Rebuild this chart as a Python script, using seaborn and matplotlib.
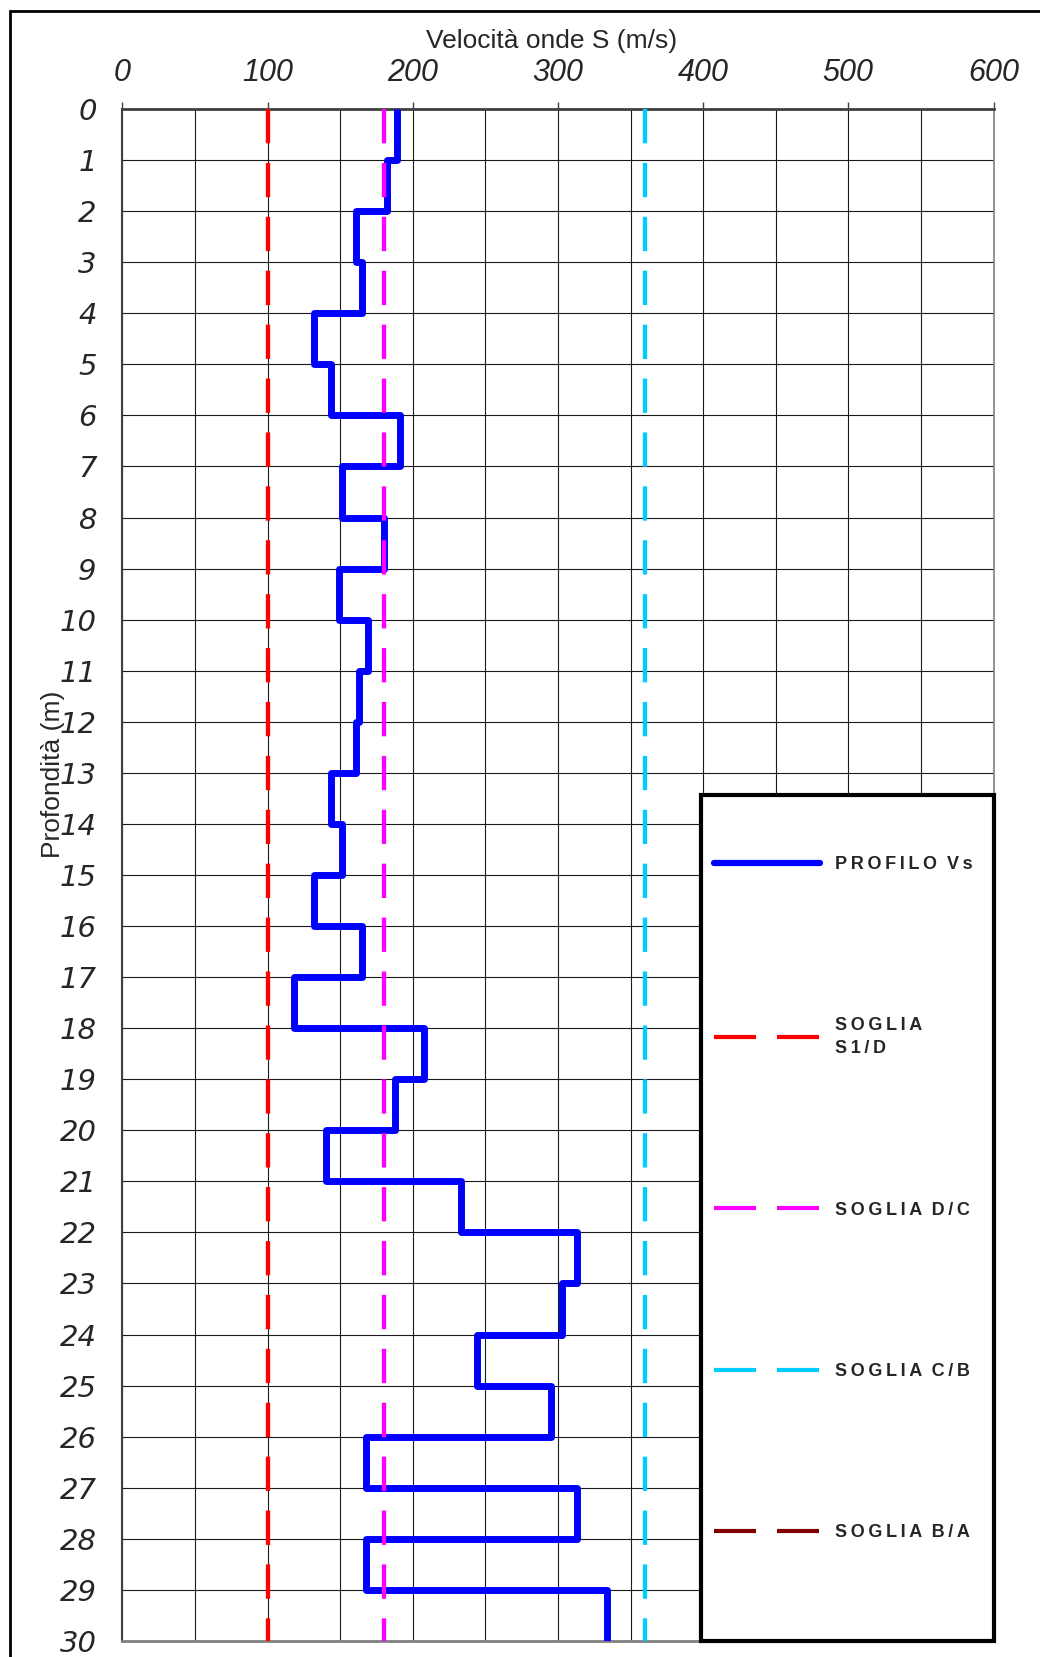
import matplotlib
matplotlib.use("Agg")
import matplotlib.pyplot as plt
from matplotlib.lines import Line2D
from matplotlib.patches import Rectangle
from matplotlib.ticker import MultipleLocator
import numpy as np
import pandas as pd
import seaborn as sns

# Vs profile, one value per 1 m layer (0-30 m)
depth_top = list(range(0, 30))
depth_bottom = list(range(1, 31))
vs = [189, 182, 161, 165, 132, 144, 191, 151, 180, 149,
      169, 163, 161, 144, 151, 132, 165, 118, 208, 188,
      140, 233, 313, 303, 244, 295, 168, 313, 168, 334]

# soil class thresholds (letter-spaced like the original legend)
T = "\u2009"
soglie_labels = [T.join("SOGLIA") + "\n" + T.join("S1/D"),
                 T.join("SOGLIA") + "  " + T.join("D/C"),
                 T.join("SOGLIA") + "  " + T.join("C/B"),
                 T.join("SOGLIA") + "  " + T.join("B/A")]
soglie_values = [100, 180, 360, 800]
soglie_colors = ["#FF0000", "#FF00FF", "#00CCFF", "#800000"]
profilo_label = T.join("PROFILO") + "  " + T.join("Vs")

x_ticks = [0, 100, 200, 300, 400, 500, 600]
y_ticks = list(range(0, 31))

sns.set_style("white")
plt.rcParams['font.family'] = ['Liberation Sans', 'DejaVu Sans']

fig = plt.figure(figsize=(10.4, 16.57), dpi=100)
ax = fig.add_axes([0.1176, 0.0097, 0.8377, 0.9245])

# step profile
df = pd.DataFrame({
    "depth": np.column_stack([depth_top, depth_bottom]).ravel(),
    "vs": np.repeat(vs, 2),
})
sns.lineplot(data=df, x="vs", y="depth", sort=False, estimator=None, orient="y",
             color="#0000FF", lw=5, ax=ax, zorder=3,
             solid_joinstyle="round", solid_capstyle="butt")

# thresholds
for val, col in zip(soglie_values, soglie_colors):
    sns.lineplot(x=[val, val], y=[0, 30], sort=False, estimator=None, orient="y",
                 color=col, lw=3.1, ax=ax, zorder=4)
    ax.lines[-1].set_dashes((7.97, 4.55))
    ax.lines[-1].set_dash_capstyle("butt")

ax.set_xlim(0, 600)
ax.set_ylim(30, 0)
ax.xaxis.tick_top()
ax.xaxis.set_label_position("top")
ax.set_xticks(x_ticks)
ax.set_yticks(y_ticks)
ax.xaxis.set_minor_locator(MultipleLocator(50))
ax.grid(which="both", color="#1a1a1a", lw=0.8, zorder=0)
ax.set_axisbelow(True)
ax.tick_params(axis="x", which="major", direction="out", length=5.4, width=1,
               color="#404040", pad=10, labelsize=22)
ax.tick_params(axis="y", which="major", direction="out", length=6.5, width=1,
               color="#404040", pad=12)
ax.tick_params(which="minor", length=0)
for lab in ax.get_xticklabels():
    lab.set_fontstyle("italic")
for lab in ax.get_yticklabels():
    lab.set_fontfamily("DejaVu Sans")
    lab.set_fontstyle("oblique")
    lab.set_fontsize(21)

ax.spines["top"].set_color("#404040")
ax.spines["top"].set_linewidth(2)
ax.spines["left"].set_color("#404040")
ax.spines["left"].set_linewidth(1.5)
ax.spines["bottom"].set_color("#808080")
ax.spines["bottom"].set_linewidth(2)
ax.spines["right"].set_color("#808080")
ax.spines["right"].set_linewidth(1.2)

ax.set_xlabel("Velocità onde S (m/s)", fontsize=19)
ax.xaxis.set_label_coords(0.4929, 1.0445)
ax.xaxis.label.set_va("center")
ax.set_ylabel("Profondità (m)", fontsize=19)
ax.yaxis.set_label_coords(-0.079, 0.566)
ax.yaxis.label.set_va("center")

# legend box
box = Rectangle((0.6639, 0.0), 0.3361, 0.552, transform=ax.transAxes,
                facecolor="white", edgecolor="black", lw=3, zorder=5, clip_on=False)
ax.add_patch(box)
handles = [Line2D([], [], color="#0000FF", lw=4.5, solid_capstyle="round")]
for col in soglie_colors:
    handles.append(Line2D([], [], color=col, lw=3, dashes=(10.08, 5.04),
                          dash_capstyle="butt"))
leg = ax.legend(handles, [profilo_label] + soglie_labels, frameon=False,
                loc="upper left", bbox_to_anchor=(0.6797, 0.5125),
                borderpad=0, borderaxespad=0, handlelength=5.83,
                handletextpad=0.82, labelspacing=8.0,
                prop={"size": 13, "weight": "bold"})
for t in leg.get_texts():
    t.set_linespacing(1.45)
leg.set_zorder(6)

# outer frame
fig.add_artist(Rectangle((10 / 1040, -0.05), 1.2, 1 - 10.5 / 1657 + 0.05,
                         transform=fig.transFigure, fill=False,
                         edgecolor="black", lw=2))

fig.savefig("out.png", dpi=100)
